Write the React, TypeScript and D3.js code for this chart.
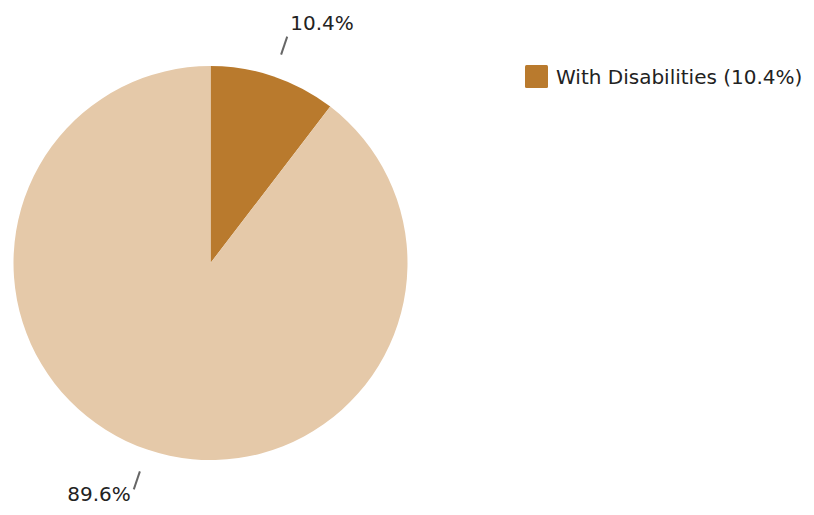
import React from "react";
import * as d3 from "d3";

const categories = ["With Disabilities", "Without Disabilities"];
const values = [10.4, 89.6];
const colors = ["#B97A2D", "#E5C9A9"];
const legendItems = ["With Disabilities (10.4%)"];

export default function App() {
  const width = 814;
  const height = 515;
  const cx = 210.5;
  const cy = 263;
  const r = 197;
  const pie = d3.pie<number>().sort(null).value((d) => d);
  const arcs = pie(values);
  const arc = d3.arc<d3.PieArcDatum<number>>().innerRadius(0).outerRadius(r);
  const font = "Tahoma, 'DejaVu Sans', Verdana, sans-serif";
  return (
    <svg width={width} height={height} style={{ position: "absolute", left: 0, top: 0 }}>
      <rect width={width} height={height} fill="#fff" />
      <g transform={`translate(${cx},${cy})`}>
        {arcs.map((a, i) => (
          <path key={categories[i]} d={arc(a) || ""} fill={colors[i]} />
        ))}
        {arcs.map((a, i) => {
          const mid = (a.startAngle + a.endAngle) / 2;
          const r1 = 220;
          const r2 = 239;
          const x1 = Math.sin(mid) * r1, y1 = -Math.cos(mid) * r1;
          const x2 = Math.sin(mid) * r2, y2 = -Math.cos(mid) * r2;
          const right = Math.sin(mid) >= 0;
          return (
            <g key={"l" + i}>
              <line x1={x1} y1={y1} x2={x2} y2={y2} stroke="#666" strokeWidth={2} />
              <text
                x={x2 + (right ? 3 : -3)}
                y={y2 + (right ? -7 : 12)}
                textAnchor={right ? "start" : "end"}
                fontFamily={font}
                fontSize={20}
                fill="#222"
              >
                {`${values[i].toFixed(1)}%`}
              </text>
            </g>
          );
        })}
      </g>
      {legendItems.map((t, i) => (
        <g key={t} transform={`translate(525,${65 + i * 26})`}>
          <rect width={23} height={23} rx={1.5} fill={colors[i]} />
          <text x={31} y={19} fontFamily={font} fontSize={20} fill="#222">
            {t}
          </text>
        </g>
      ))}
    </svg>
  );
}
